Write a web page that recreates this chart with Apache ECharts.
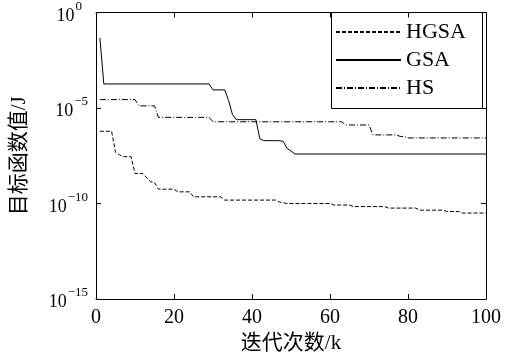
<!DOCTYPE html>
<html>
<head>
<meta charset="utf-8">
<script src="https://cdn.jsdelivr.net/npm/echarts@6/dist/echarts.min.js"></script>
<style>html,body{margin:0;padding:0;background:#fff}#c{width:506px;height:363px}</style>
</head>
<body>
<div id="c"></div>
<script>
// Data (iteration k, objective value)
const hgsaK = [1, 4, 5, 6, 7, 9, 10, 12, 14, 15, 16, 20, 21, 24, 25, 32, 33, 46, 47, 49, 60, 61, 65, 66, 74, 75, 82, 83, 89, 90, 93, 94, 100];
const hgsaV = [6.03e-7, 6.03e-7, 4.79e-8, 3.55e-8, 2.82e-8, 2.82e-8, 3.72e-9, 3.72e-9, 1.38e-9, 1.26e-9, 5.62e-10, 5.62e-10, 4.07e-10, 4.07e-10, 2.24e-10, 2.24e-10, 1.51e-10, 1.51e-10, 1.2e-10, 1.0e-10, 1.0e-10, 8.3e-11, 8.3e-11, 6.9e-11, 6.9e-11, 5.75e-11, 5.75e-11, 4.47e-11, 4.47e-11, 3.8e-11, 3.8e-11, 3.16e-11, 3.16e-11];

const gsaK = [1, 2, 29, 30, 33, 34, 35, 36, 41, 42, 43, 47, 48, 49, 50, 51, 100];
const gsaV = [4.68e-2, 1.82e-4, 1.82e-4, 8.9e-5, 8.9e-5, 2.45e-5, 4.47e-6, 2.45e-6, 2.45e-6, 2.5e-7, 1.95e-7, 1.95e-7, 1.78e-7, 7.6e-8, 5.6e-8, 3.9e-8, 3.9e-8];

const hsK = [1, 10, 11, 15, 16, 29, 30, 63, 64, 70, 71, 77, 78, 79, 80, 100];
const hsV = [2.75e-5, 2.75e-5, 1.29e-5, 1.29e-5, 3.24e-6, 3.24e-6, 1.9e-6, 1.9e-6, 1.29e-6, 1.29e-6, 3.9e-7, 3.9e-7, 3.24e-7, 3.24e-7, 2.7e-7, 2.7e-7];

const seriesNames = ['HGSA', 'GSA', 'HS'];
const xTicks = [0, 20, 40, 60, 80, 100];
const yTicks = [1e-15, 1e-10, 1e-5, 1];
const xName = '迭代次数/k';
const yName = '目标函数值/J';

const zip = (k, v) => k.map((x, i) => [x, v[i]]);
const FONT = '"Liberation Serif", "Noto Sans CJK SC", serif';

const chart = echarts.init(document.getElementById('c'), null, {renderer: 'canvas'});

const supMinus = e => (e < 0 ? '\u2212' + (-e) : String(e));

const tickStyle = {show: true, inside: true, length: 5, lineStyle: {color: '#000', width: 1}};
const lineAx = {show: true, onZero: false, lineStyle: {color: '#000', width: 1}};

chart.setOption({
  animation: false,
  backgroundColor: '#fff',
  grid: {left: 96, right: 20, top: 12, bottom: 64, containLabel: false},
  legend: {
    data: seriesNames,
    orient: 'vertical',
    left: 335,
    top: 21,
    padding: 0,
    itemWidth: 65,
    itemHeight: 14,
    itemGap: 6,
    itemStyle: {opacity: 0},
    textStyle: {fontFamily: FONT, fontSize: 22, color: '#000', lineHeight: 22}
  },
  graphic: [{
    type: 'rect',
    shape: {x: 331.5, y: 12.5, width: 151, height: 96},
    style: {fill: 'none', stroke: '#000', lineWidth: 1},
    z: 10, silent: true
  }],
  xAxis: [{
    type: 'value', min: 0, max: 100, interval: 20, position: 'bottom',
    name: xName, nameLocation: 'middle', nameGap: 32,
    nameTextStyle: {fontFamily: FONT, fontSize: 21, color: '#000'},
    axisLine: lineAx, axisTick: tickStyle,
    axisLabel: {fontFamily: FONT, fontSize: 20, color: '#000', margin: 9, customValues: xTicks},
    splitLine: {show: false}
  }, {
    type: 'value', min: 0, max: 100, interval: 20, position: 'top',
    axisLine: lineAx, axisTick: tickStyle, axisLabel: {show: false}, splitLine: {show: false}
  }],
  yAxis: [{
    type: 'log', logBase: 10, min: 1e-15, max: 1, position: 'left',
    name: yName, nameLocation: 'middle', nameGap: 66,
    nameTextStyle: {fontFamily: FONT, fontSize: 21, color: '#000'},
    axisLine: lineAx,
    axisTick: Object.assign({}, tickStyle, {customValues: yTicks}),
    axisLabel: {
      customValues: yTicks, margin: 8, align: 'right',
      formatter: v => {
        const e = Math.round(Math.log10(v));
        return '{b|10}{' + (e === 0 ? 'z' : 's') + '|' + supMinus(e) + '}';
      },
      rich: {
        b: {fontFamily: FONT, fontSize: 18, color: '#000', padding: [7, 0, 0, 0]},
        s: {fontFamily: FONT, fontSize: 13, color: '#000', verticalAlign: 'top', padding: [0, 0, 0, 1]},
        z: {fontFamily: FONT, fontSize: 13, color: '#000', verticalAlign: 'top', padding: [0, 6, 0, 1]}
      }
    },
    splitLine: {show: false}, minorTick: {show: false}
  }, {
    type: 'log', logBase: 10, min: 1e-15, max: 1, position: 'right',
    axisLine: lineAx,
    axisTick: Object.assign({}, tickStyle, {customValues: yTicks}),
    axisLabel: {show: false}, splitLine: {show: false}
  }],
  series: [{
    name: seriesNames[0], type: 'line', data: zip(hgsaK, hgsaV), symbol: 'none',
    lineStyle: {color: '#000', width: 1, type: [4, 2]}, itemStyle: {color: '#000'}
  }, {
    name: seriesNames[1], type: 'line', data: zip(gsaK, gsaV), symbol: 'none',
    lineStyle: {color: '#000', width: 1, type: 'solid'}, itemStyle: {color: '#000'}
  }, {
    name: seriesNames[2], type: 'line', data: zip(hsK, hsV), symbol: 'none',
    lineStyle: {color: '#000', width: 1, type: [6, 2, 1, 2]}, itemStyle: {color: '#000'}
  }]
});
</script>
</body>
</html>
